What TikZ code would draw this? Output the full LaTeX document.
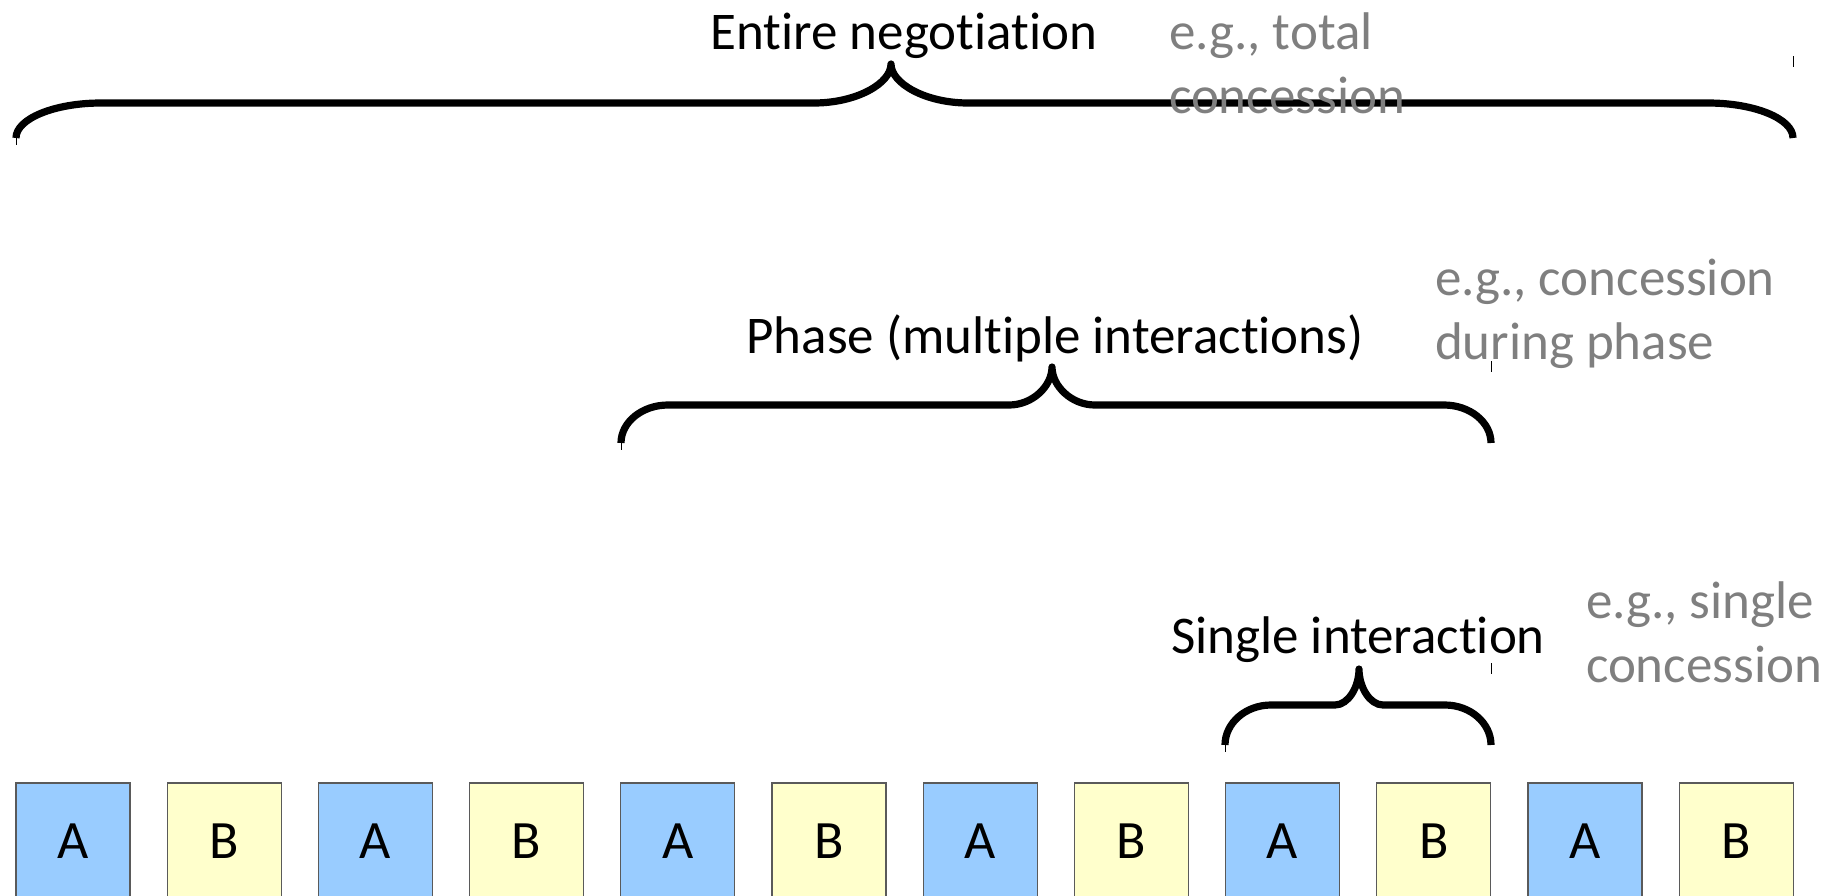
\documentclass[tikz,border=0pt]{standalone}
\usepackage{fontspec}
\setmainfont{Carlito}[Ligatures={NoCommon,NoContextual,NoRare}]
\definecolor{boxblue}{HTML}{99CCFF}
\definecolor{boxyellow}{HTML}{FFFFCC}
\definecolor{notegray}{HTML}{7F7F7F}
\definecolor{boxline}{HTML}{5A5A5A}
\newcommand\levelbrace[8]{%
  \draw[bracestyle] (#1,#3) .. controls (#1,#3-0.55*#3+0.55*#4) and (#1+0.45*#7,#4) .. (#1+#7,#4)
    -- (#5-#8,#4) .. controls (#5-0.45*#8,#4) and (#5,#4-0.5*#4+0.5*#6) .. (#5,#6)
    .. controls (#5,#4-0.5*#4+0.5*#6) and (#5+0.45*#8,#4) .. (#5+#8,#4)
    -- (#2-#7,#4) .. controls (#2-0.45*#7,#4) and (#2,#3-0.55*#3+0.55*#4) .. (#2,#3);}
\begin{document}
\begin{tikzpicture}[x=0.5pt,y=-0.5pt,
  every node/.style={inner sep=0pt,outer sep=0pt},
  lbl/.style={font=\fontsize{26.5pt}{32pt}\selectfont,text=black},
  note/.style={font=\fontsize{26.5pt}{32pt}\selectfont,text=notegray,anchor=base west},
  cellA/.style={draw=boxline,line width=0.6pt,fill=boxblue,minimum width=57pt,minimum height=58pt,anchor=north west,font=\fontsize{27pt}{32pt}\selectfont},
  cellB/.style={cellA,fill=boxyellow},
  bracestyle/.style={line width=3.6pt,line join=round},
  tickstyle/.style={line width=0.5pt}]
\useasboundingbox (0,0) rectangle (1837,895);
\clip (0,0) rectangle (1837,895);
% cells
\foreach \i/\s/\t in {0/cellA/A,1/cellB/B,2/cellA/A,3/cellB/B,4/cellA/A,5/cellB/B,6/cellA/A,7/cellB/B,8/cellA/A,9/cellB/B,10/cellA/A,11/cellB/B}{
  \node[\s] (c\i) at ({16+151.2*\i},783) {\t};
}
% braces
\levelbrace{16}{1793}{138}{103}{891}{64}{85}{77}
\levelbrace{621}{1491}{443}{405}{1052}{367}{47}{43}
\levelbrace{1225}{1491}{745}{705}{1359}{669}{46}{24}
% small ticks
\draw[tickstyle] (16,138) -- (16,145);
\draw[tickstyle] (621,443) -- (621,450);
\draw[tickstyle] (1225,745) -- (1225,752);
\draw[tickstyle] (1793,56) -- (1793,67);
\draw[tickstyle] (1491,361) -- (1491,372);
\draw[tickstyle] (1491,663) -- (1491,674);
% labels
\node[lbl,anchor=base] (t1) at (904,49) {Entire negotiation};
\node[note] (n1a) at (1169,49) {e.g., total};
\node[note] (n1b) at (1169,113) {concession};
\node[lbl,anchor=base] (t2) at (1055,353) {Phase (multiple interactions)};
\node[note] (n2a) at (1435,295) {e.g., concession};
\node[note] (n2b) at (1435,359) {during phase};
\node[lbl,anchor=base] (t3) at (1358,653) {Single interaction};
\node[note] (n3a) at (1586,618) {e.g., single};
\node[note] (n3b) at (1586,682) {concession};
\end{tikzpicture}
\end{document}
